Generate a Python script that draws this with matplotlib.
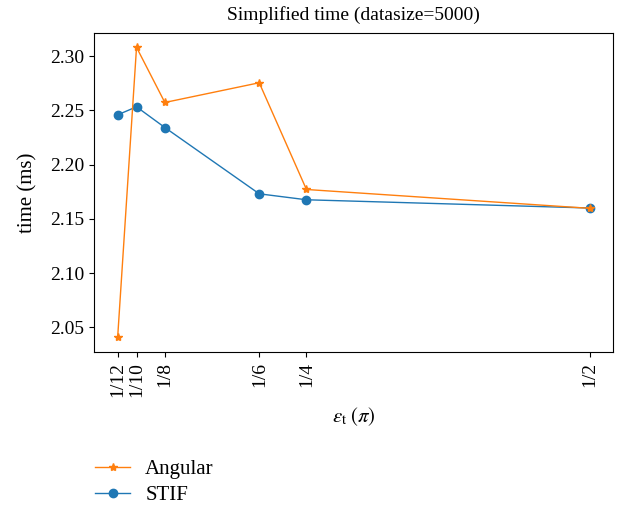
import numpy as np
import matplotlib
matplotlib.use('Agg')
import matplotlib.pyplot as plt

# data
tick_labels = ['1/12', '1/10', '1/8', '1/6', '1/4', '1/2']
x_pos = [0.0, 0.04, 0.1, 0.3, 0.4, 1.0]   # spacing as used on the original axis
angular = [2.0405, 2.3083, 2.2574, 2.2756, 2.1771, 2.1597]
stif = [2.2460, 2.2534, 2.2343, 2.1731, 2.1676, 2.1600]
y_ticks = [2.05, 2.10, 2.15, 2.20, 2.25, 2.30]

plt.rcParams['font.family'] = ['Liberation Serif', 'DejaVu Serif']
plt.rcParams['mathtext.fontset'] = 'stix'

fig = plt.figure(figsize=(6.27, 5.05), dpi=100)
ax = fig.add_axes([0.150, 0.303, 0.828, 0.632])

l_stif, = ax.plot(x_pos, stif, color='#1f77b4', marker='o', markersize=6,
                  linewidth=1, label='STIF')
l_ang, = ax.plot(x_pos, angular, color='#ff7f0e', marker='*', markersize=6,
                 linewidth=1, label='Angular')

ax.set_xticks(x_pos)
ax.set_xticklabels(tick_labels, rotation=90, fontsize=14)
ax.set_yticks(y_ticks)
ax.set_yticklabels(['%.2f' % v for v in y_ticks], fontsize=14)
ax.set_xlabel(r'$\varepsilon_{\rm t}\;(\pi)$', fontsize=15, labelpad=6)
ax.set_ylabel('time (ms)', fontsize=15, labelpad=9)
ax.set_title('Simplified time (datasize=5000)', fontsize=14, pad=9)

fig.legend([l_ang, l_stif], ['Angular', 'STIF'], loc='upper left',
           bbox_to_anchor=(0.122, 0.127), frameon=False, fontsize=15,
           handlelength=1.68, handletextpad=0.72, labelspacing=0.3)

fig.savefig('out.png', dpi=100)
